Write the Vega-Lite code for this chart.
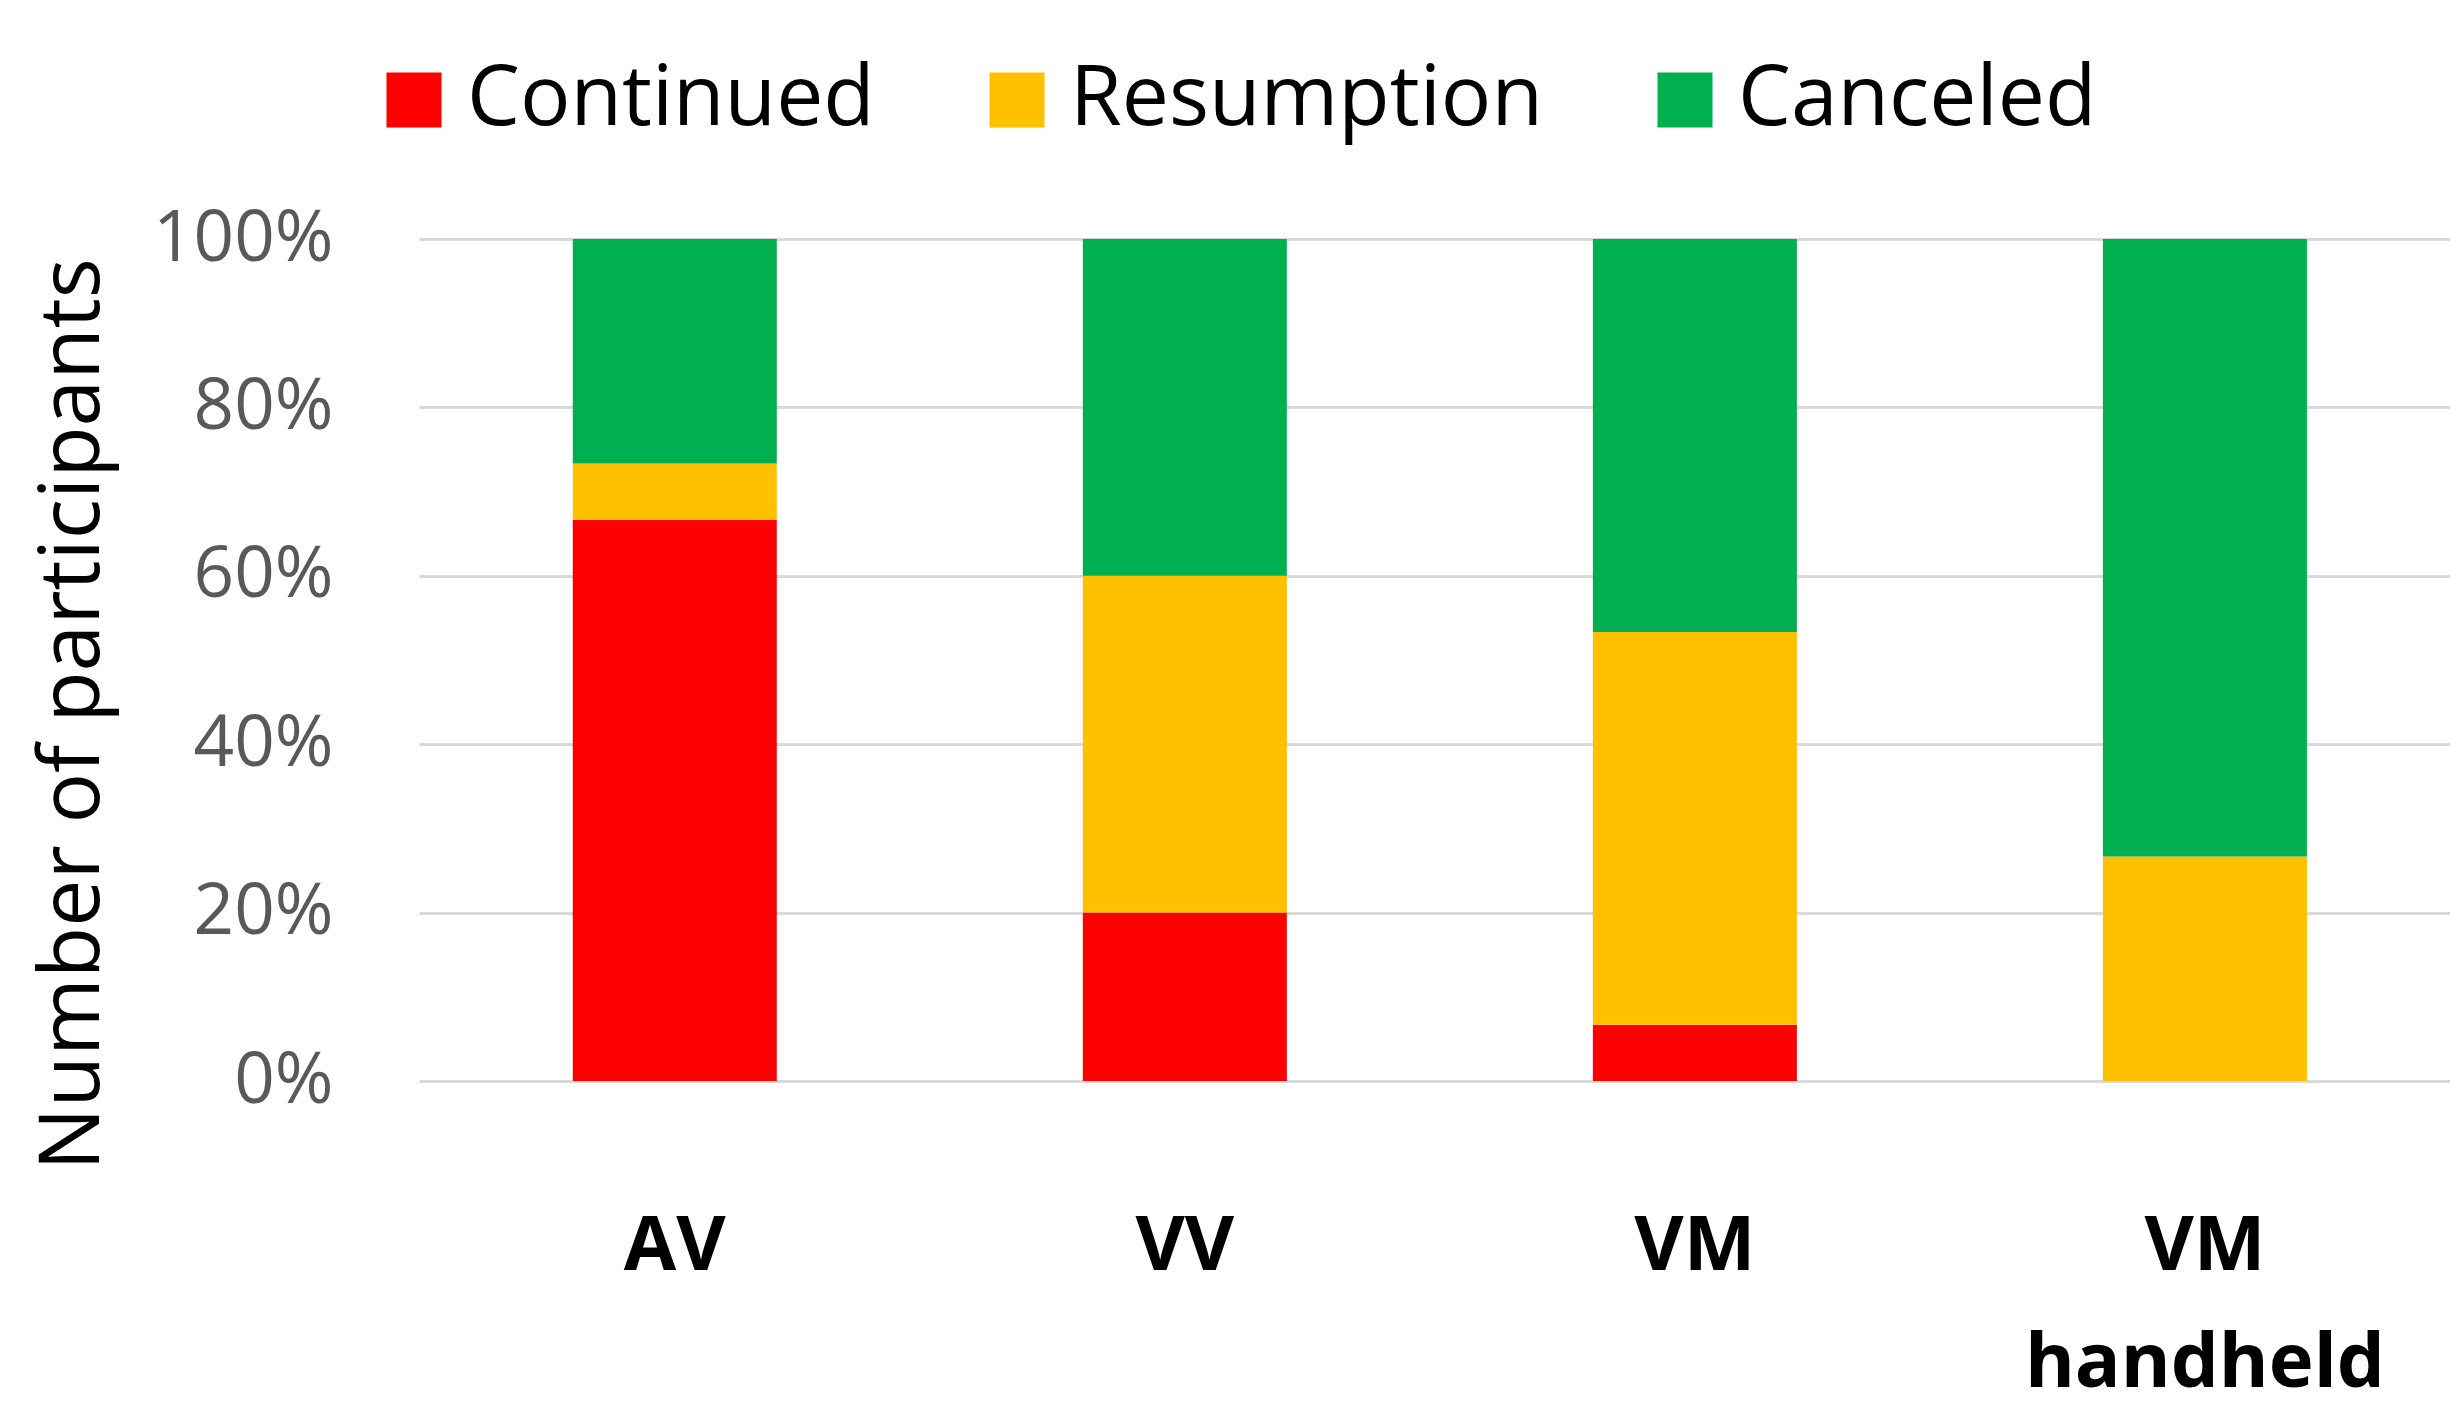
{
  "$schema": "https://vega.github.io/schema/vega-lite/v6.json",
  "autosize": "none",
  "width": 2031,
  "height": 842,
  "padding": {"left": 419, "top": 239, "right": 0, "bottom": 343},
  "background": "white",
  "data": {
    "values": [
      {"group": "AV", "outcome": "Continued", "rank": 1, "count": 10},
      {"group": "AV", "outcome": "Resumption", "rank": 2, "count": 1},
      {"group": "AV", "outcome": "Canceled", "rank": 3, "count": 4},
      {"group": "VV", "outcome": "Continued", "rank": 1, "count": 3},
      {"group": "VV", "outcome": "Resumption", "rank": 2, "count": 6},
      {"group": "VV", "outcome": "Canceled", "rank": 3, "count": 6},
      {"group": "VM", "outcome": "Continued", "rank": 1, "count": 1},
      {"group": "VM", "outcome": "Resumption", "rank": 2, "count": 7},
      {"group": "VM", "outcome": "Canceled", "rank": 3, "count": 7},
      {"group": "VM handheld", "outcome": "Continued", "rank": 1, "count": 0},
      {"group": "VM handheld", "outcome": "Resumption", "rank": 2, "count": 4},
      {"group": "VM handheld", "outcome": "Canceled", "rank": 3, "count": 11}
    ]
  },
  "mark": {"type": "bar"},
  "encoding": {
    "x": {
      "field": "group",
      "type": "nominal",
      "sort": ["AV", "VV", "VM", "VM handheld"],
      "scale": {"paddingInner": 0.6, "paddingOuter": 0.291, "align": 0.518},
      "axis": {
        "title": null,
        "labelAngle": 0,
        "labelFont": "Open Sans",
        "labelFontWeight": "bold",
        "labelFontSize": 76,
        "labelColor": "#000000",
        "labelPadding": 128,
        "labelLineHeight": 117,
        "labelLimit": 1000,
        "labelExpr": "datum.value == 'VM handheld' ? ['VM', 'handheld'] : datum.value",
        "ticks": false,
        "domain": false,
        "grid": false
      }
    },
    "y": {
      "field": "count",
      "type": "quantitative",
      "stack": "normalize",
      "scale": {"domain": [0, 1]},
      "axis": {
        "title": "Number of participants",
        "titleFont": "Open Sans",
        "titleFontWeight": "normal",
        "titleFontSize": 84,
        "titleColor": "#000000",
        "titleAngle": -90,
        "titleAlign": "center",
        "titleBaseline": "alphabetic",
        "titleX": -321,
        "titleY": 475,
        "format": ".0%",
        "values": [0, 0.2, 0.4, 0.6, 0.8, 1],
        "labelFont": "Open Sans",
        "labelFontSize": 71,
        "labelColor": "#595959",
        "labelPadding": 86,
        "labelLimit": 1000,
        "ticks": false,
        "domain": false,
        "grid": true,
        "gridColor": "#d9d9d9",
        "gridWidth": 3
      }
    },
    "color": {
      "field": "outcome",
      "type": "nominal",
      "sort": ["Continued", "Resumption", "Canceled"],
      "scale": {
        "domain": ["Continued", "Resumption", "Canceled"],
        "range": ["#FF0000", "#FFC000", "#00B050"]
      },
      "legend": {
        "title": null,
        "orient": "none",
        "legendX": -47,
        "legendY": -181,
        "direction": "horizontal",
        "symbolType": "square",
        "symbolSize": 3025,
        "symbolStrokeWidth": 0,
        "symbolOpacity": 1,
        "labelFont": "Open Sans",
        "labelFontSize": 84,
        "labelColor": "#000000",
        "labelOffset": 11,
        "columnPadding": 100,
        "labelLimit": 1000
      }
    },
    "order": {"field": "rank", "type": "quantitative", "sort": "ascending"}
  },
  "config": {
    "view": {"stroke": null}
  }
}
